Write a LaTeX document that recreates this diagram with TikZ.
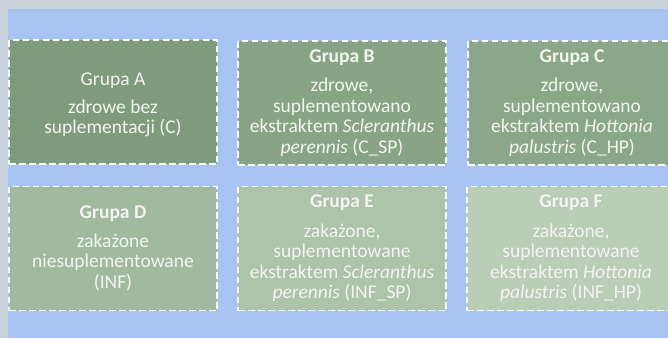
\documentclass[tikz,border=0pt]{standalone}
\usepackage{fontspec}
\setmainfont{Carlito}
\begin{document}
\begin{tikzpicture}[x=1pt,y=-1pt,
  grp/.style={draw=white, line width=1.9pt, dash pattern=on 6.5pt off 3.5pt,
    minimum width=208pt, minimum height=124pt, inner sep=0pt,
    align=center, text=textc, font=\fontsize{19.5}{20.5}\selectfont},
  txt/.style={align=center, text=textc, font=\fontsize{19.5}{20.5}\selectfont},
]
\definecolor{grayc}{HTML}{C8D2DA}
\definecolor{bluec}{HTML}{A8C4F2}
\definecolor{fa}{HTML}{7E9C7C}
\definecolor{fb}{HTML}{87A585}
\definecolor{fc}{HTML}{8AA887}
\definecolor{fd}{HTML}{A1B99E}
\definecolor{fe}{HTML}{ADC3AA}
\definecolor{ff}{HTML}{BACDB7}
\definecolor{textc}{HTML}{F3F5F1}
\useasboundingbox (0,0) rectangle (668,338);
\clip (0,0) rectangle (668,338);
\fill[grayc] (0,0) rectangle (668,338);
\fill[bluec] (8,9) rectangle (668,338);
\node[grp, fill=fa] (A) at (113,102) {};
\node[txt] (Atxt) at (113,105) {Grupa A\\[7pt] zdrowe bez\\ suplementacji (C)};
\node[grp, fill=fb] (B) at (342,103) {\textbf{Grupa B}\\[9pt] zdrowe,\\ suplementowano\\ ekstraktem \textit{Scleranthus}\\ \textit{perennis} (C\_SP)};
\node[grp, fill=fc] (C) at (572,103) {\textbf{Grupa C}\\[9pt] zdrowe,\\ suplementowano\\ ekstraktem \textit{Hottonia}\\ \textit{palustris} (C\_HP)};
\node[grp, fill=fd] (D) at (113,248.5) {\textbf{Grupa D}\\[8pt] zakażone\\ niesuplementowane\\ (INF)};
\node[grp, fill=fe] (E) at (342,248.5) {\textbf{Grupa E}\\[9pt] zakażone,\\ suplementowane\\ ekstraktem \textit{Scleranthus}\\ \textit{perennis} (INF\_SP)};
\node[grp, fill=ff] (F) at (571,248.5) {\textbf{Grupa F}\\[9pt] zakażone,\\ suplementowane\\ ekstraktem \textit{Hottonia}\\ \textit{palustris} (INF\_HP)};
\end{tikzpicture}
\end{document}
